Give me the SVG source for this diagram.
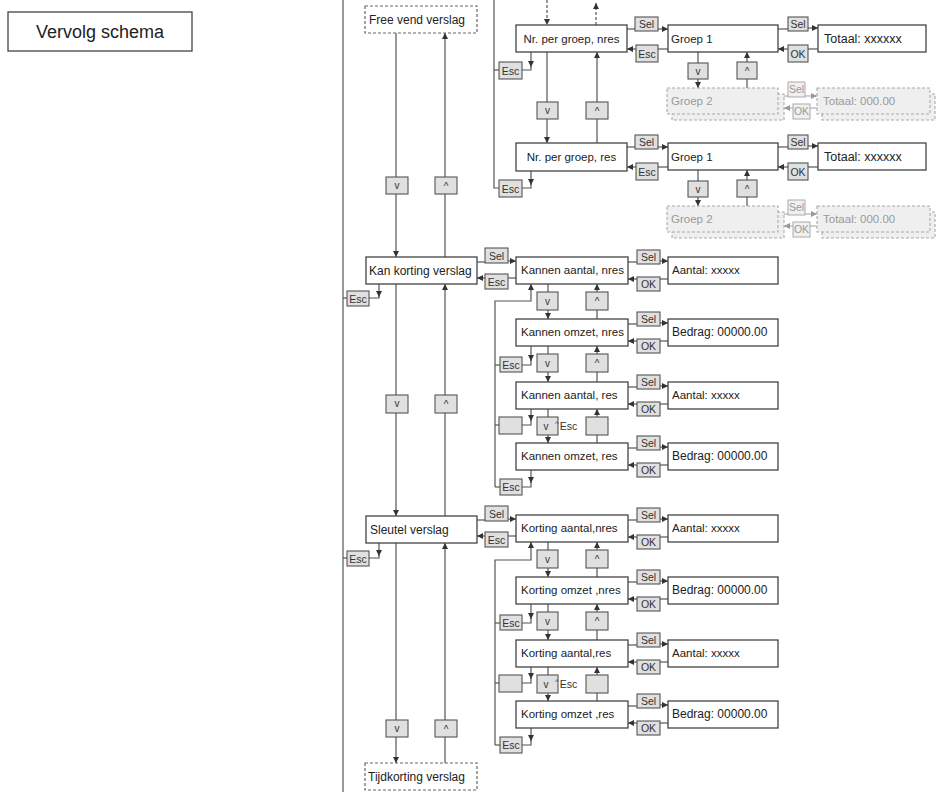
<svg xmlns="http://www.w3.org/2000/svg" width="939" height="793" viewBox="0 0 939 793">
<defs>
<style>
.n{fill:#fff;stroke:#444;stroke-width:1.3}
.d{fill:#fff;stroke:#666;stroke-width:1.2;stroke-dasharray:3,2}
.g{fill:#efefef;stroke:#aaa;stroke-width:1.1;stroke-dasharray:3,2}
.k{fill:#e0e0e0;stroke:#555;stroke-width:1.1}
.kg{fill:#f0f0f0;stroke:#aaa;stroke-width:1}
.t{font-family:"Liberation Sans",Arial,sans-serif;font-size:11.5px;fill:#222}
.tl{font-size:12px}
.tk{font-family:"Liberation Sans",Arial,sans-serif;font-size:10.5px;fill:#333;text-anchor:middle}
.tc{font-family:"Liberation Sans",Arial,sans-serif;font-size:10px;fill:#333;text-anchor:middle}
.tg{fill:#999}
.c{fill:none;stroke:#555;stroke-width:1.2}
.cd{stroke-dasharray:3,2}
.cg{fill:none;stroke:#aaa;stroke-width:1.1}
</style>
<marker id="a" viewBox="0 0 6 6" refX="6" refY="3" markerWidth="6" markerHeight="6" markerUnits="userSpaceOnUse" orient="auto"><path d="M0,0 L6,3 L0,6 z" fill="#333"/></marker>
<marker id="ag" viewBox="0 0 6 6" refX="6" refY="3" markerWidth="6" markerHeight="6" markerUnits="userSpaceOnUse" orient="auto"><path d="M0,0 L6,3 L0,6 z" fill="#999"/></marker>
</defs>
<rect width="939" height="793" fill="#fff"/>

<g id="connectors">
<path class="c" d="M343,0 V792"/>
<path class="c" d="M396,33 V257" marker-end="url(#a)"/>
<path class="c" d="M445,257 V33" marker-end="url(#a)"/>
<path class="c" d="M396,284 V516" marker-end="url(#a)"/>
<path class="c" d="M445,516 V284" marker-end="url(#a)"/>
<path class="c" d="M396,543 V763" marker-end="url(#a)"/>
<path class="c" d="M445,763 V543" marker-end="url(#a)"/>
<path class="c" d="M343,298 H347"/>
<path class="c" d="M379,284 V297" marker-end="url(#a)"/>
<path class="c" d="M379,296 V298 H369"/>
<path class="c" d="M343,558 H347"/>
<path class="c" d="M379,543 V556" marker-end="url(#a)"/>
<path class="c" d="M379,555 V558 H369"/>
<path class="c" d="M477,262 H485"/>
<path class="c" d="M508,261 H516" marker-end="url(#a)"/>
<path class="c" d="M516,278 H508"/>
<path class="c" d="M485,278 H477" marker-end="url(#a)"/>
<path class="c" d="M477,520 H485"/>
<path class="c" d="M508,519 H516" marker-end="url(#a)"/>
<path class="c" d="M516,536 H508"/>
<path class="c" d="M485,536 H477" marker-end="url(#a)"/>

<path class="c" d="M494,0 V188 H499"/>
<path class="c" d="M494,70 H499"/>
<path class="c" d="M531,52 V67" marker-end="url(#a)"/>
<path class="c" d="M531,66 V70 H522"/>
<path class="c" d="M531,171 V185" marker-end="url(#a)"/>
<path class="c" d="M531,184 V188 H522"/>
<path class="c cd" d="M547,0 V25" marker-end="url(#a)"/>
<path class="c cd" d="M596,25 V3" marker-end="url(#a)"/>
<path class="c" d="M547,52 V143" marker-end="url(#a)"/>
<path class="c" d="M597,143 V52" marker-end="url(#a)"/>

<path class="c" d="M627,29 H635"/>
<path class="c" d="M658,29 H668" marker-end="url(#a)"/>
<path class="c" d="M668,49 H658"/>
<path class="c" d="M636,49 H627" marker-end="url(#a)"/>
<path class="c" d="M778,29 H788"/>
<path class="c" d="M808,28 H818" marker-end="url(#a)"/>
<path class="c" d="M818,49 H808"/>
<path class="c" d="M788,49 H778" marker-end="url(#a)"/>
<path class="c" d="M698,52 V88" marker-end="url(#a)"/>
<path class="c" d="M747,88 V52" marker-end="url(#a)"/>
<path class="cg" d="M778,96 H788"/>
<path class="cg" d="M805,96 H817" marker-end="url(#ag)"/>
<path class="cg" d="M817,108 H810"/>
<path class="cg" d="M793,108 H784" marker-end="url(#ag)"/>
<path class="c" d="M627,147 H635"/>
<path class="c" d="M658,147 H668" marker-end="url(#a)"/>
<path class="c" d="M668,167 H658"/>
<path class="c" d="M636,167 H627" marker-end="url(#a)"/>
<path class="c" d="M778,147 H788"/>
<path class="c" d="M808,146 H818" marker-end="url(#a)"/>
<path class="c" d="M818,167 H808"/>
<path class="c" d="M788,167 H778" marker-end="url(#a)"/>
<path class="c" d="M698,170 V206" marker-end="url(#a)"/>
<path class="c" d="M747,206 V170" marker-end="url(#a)"/>
<path class="cg" d="M778,214 H788"/>
<path class="cg" d="M805,214 H817" marker-end="url(#ag)"/>
<path class="cg" d="M817,226 H810"/>
<path class="cg" d="M793,226 H784" marker-end="url(#ag)"/>

<path class="c" d="M628,262 H637"/><path class="c" d="M660,261 H668" marker-end="url(#a)"/>
<path class="c" d="M668,279 H660"/><path class="c" d="M637,279 H628" marker-end="url(#a)"/>
<path class="c" d="M628,324 H637"/><path class="c" d="M660,323 H668" marker-end="url(#a)"/>
<path class="c" d="M668,341 H660"/><path class="c" d="M637,341 H628" marker-end="url(#a)"/>
<path class="c" d="M628,387 H637"/><path class="c" d="M660,386 H668" marker-end="url(#a)"/>
<path class="c" d="M668,404 H660"/><path class="c" d="M637,404 H628" marker-end="url(#a)"/>
<path class="c" d="M628,448 H637"/><path class="c" d="M660,447 H668" marker-end="url(#a)"/>
<path class="c" d="M668,465 H660"/><path class="c" d="M637,465 H628" marker-end="url(#a)"/>
<path class="c" d="M548,284 V319" marker-end="url(#a)"/><path class="c" d="M597,319 V284" marker-end="url(#a)"/>
<path class="c" d="M548,346 V382" marker-end="url(#a)"/><path class="c" d="M597,382 V346" marker-end="url(#a)"/>
<path class="c" d="M548,409 V443" marker-end="url(#a)"/><path class="c" d="M597,443 V409" marker-end="url(#a)"/>
<path class="c" d="M495,487 V301 H531 V284" marker-end="url(#a)"/>
<path class="c" d="M495,365 H500"/><path class="c" d="M495,425 H499"/><path class="c" d="M495,487 H500"/>
<path class="c" d="M531,346 V361" marker-end="url(#a)"/><path class="c" d="M531,360 V365 H522"/>
<path class="c" d="M531,409 V421" marker-end="url(#a)"/><path class="c" d="M531,420 V425 H522"/>
<path class="c" d="M531,470 V483" marker-end="url(#a)"/><path class="c" d="M531,482 V487 H522"/>

<path class="c" d="M628,520 H637"/><path class="c" d="M660,519 H668" marker-end="url(#a)"/>
<path class="c" d="M668,537 H660"/><path class="c" d="M637,537 H628" marker-end="url(#a)"/>
<path class="c" d="M628,582 H637"/><path class="c" d="M660,581 H668" marker-end="url(#a)"/>
<path class="c" d="M668,599 H660"/><path class="c" d="M637,599 H628" marker-end="url(#a)"/>
<path class="c" d="M628,645 H637"/><path class="c" d="M660,644 H668" marker-end="url(#a)"/>
<path class="c" d="M668,662 H660"/><path class="c" d="M637,662 H628" marker-end="url(#a)"/>
<path class="c" d="M628,706 H637"/><path class="c" d="M660,705 H668" marker-end="url(#a)"/>
<path class="c" d="M668,723 H660"/><path class="c" d="M637,723 H628" marker-end="url(#a)"/>
<path class="c" d="M548,542 V577" marker-end="url(#a)"/><path class="c" d="M597,577 V542" marker-end="url(#a)"/>
<path class="c" d="M548,604 V640" marker-end="url(#a)"/><path class="c" d="M597,640 V604" marker-end="url(#a)"/>
<path class="c" d="M548,667 V701" marker-end="url(#a)"/><path class="c" d="M597,701 V667" marker-end="url(#a)"/>
<path class="c" d="M495,745 V560 H531 V542" marker-end="url(#a)"/>
<path class="c" d="M495,623 H500"/><path class="c" d="M495,683 H499"/><path class="c" d="M495,745 H500"/>
<path class="c" d="M531,604 V619" marker-end="url(#a)"/><path class="c" d="M531,618 V623 H522"/>
<path class="c" d="M531,667 V679" marker-end="url(#a)"/><path class="c" d="M531,678 V683 H522"/>
<path class="c" d="M531,728 V741" marker-end="url(#a)"/><path class="c" d="M531,740 V745 H522"/>
</g>

<g id="vervolg"><rect class="n" x="8" y="12" width="184" height="39"/><text class="t" x="100" y="38" style="font-size:18px" text-anchor="middle">Vervolg schema</text></g>

<g id="free-vend"><rect class="d" x="365" y="6" width="112" height="27"/><text class="t tl" x="369" y="24">Free vend verslag</text></g>
<g id="kan-korting"><rect class="n" x="366" y="257" width="111" height="27"/><text class="t tl" x="369" y="275">Kan korting verslag</text></g>
<g id="sleutel"><rect class="n" x="366" y="516" width="111" height="27"/><text class="t tl" x="370" y="534">Sleutel verslag</text></g>
<g id="tijdkorting"><rect class="d" x="365" y="763" width="112" height="27"/><text class="t tl" x="368" y="781">Tijdkorting verslag</text></g>

<g id="keys-left">
<rect class="k" x="386" y="177" width="22" height="17"/><text class="tc" x="397" y="189">v</text>
<rect class="k" x="435" y="177" width="22" height="17"/><text class="tc" x="446" y="190">^</text>
<rect class="k" x="386" y="395" width="22" height="18"/><text class="tc" x="397" y="407">v</text>
<rect class="k" x="435" y="395" width="22" height="18"/><text class="tc" x="446" y="408">^</text>
<rect class="k" x="386" y="720" width="22" height="17"/><text class="tc" x="397" y="732">v</text>
<rect class="k" x="435" y="720" width="22" height="17"/><text class="tc" x="446" y="733">^</text>
<rect class="k" x="347" y="291" width="22" height="15"/><text class="tk" x="358" y="302.5">Esc</text>
<rect class="k" x="347" y="551" width="22" height="15"/><text class="tk" x="358" y="562.5">Esc</text>
<rect class="k" x="485" y="248" width="23" height="15"/><text class="tk" x="496.5" y="259.5">Sel</text>
<rect class="k" x="485" y="274" width="23" height="15"/><text class="tk" x="496.5" y="285.5">Esc</text>
<rect class="k" x="485" y="506" width="23" height="15"/><text class="tk" x="496.5" y="517.5">Sel</text>
<rect class="k" x="485" y="532" width="23" height="15"/><text class="tk" x="496.5" y="543.5">Esc</text>
</g>

<g id="nr-nres"><rect class="n" x="516" y="25" width="111" height="27"/><text class="t" x="571.5" y="43" text-anchor="middle">Nr. per groep, nres</text></g>
<g id="nr-res"><rect class="n" x="516" y="143" width="111" height="28"/><text class="t" x="571.5" y="161" text-anchor="middle">Nr. per groep, res</text></g>
<g id="keys-top">
<rect class="k" x="499" y="62" width="23" height="17"/><text class="tk" x="510.5" y="74.5">Esc</text>
<rect class="k" x="499" y="180" width="23" height="17"/><text class="tk" x="510.5" y="192.5">Esc</text>
<rect class="k" x="537" y="102" width="21" height="17"/><text class="tc" x="547.5" y="114">v</text>
<rect class="k" x="586" y="102" width="22" height="17"/><text class="tc" x="597" y="115">^</text>
</g>

<g id="groep-block-1">
<rect class="k" x="635" y="17" width="23" height="14"/><text class="tk" x="646.5" y="28">Sel</text>
<rect class="k" x="636" y="45" width="22" height="17"/><text class="tk" x="647" y="57.5">Esc</text>
<rect class="n" x="668" y="25" width="110" height="27"/><text class="t" x="671" y="43">Groep 1</text>
<rect class="k" x="788" y="17" width="20" height="14"/><text class="tk" x="798" y="28">Sel</text>
<rect class="k" x="788" y="45" width="20" height="17"/><text class="tk" x="798" y="57.5">OK</text>
<rect class="n" x="818" y="25" width="108" height="27"/><text class="t" x="824" y="43" style="font-size:12.5px">Totaal: xxxxxx</text>
<rect class="k" x="688" y="63" width="20" height="16"/><text class="tc" x="698" y="74.5">v</text>
<rect class="k" x="737" y="62" width="20" height="17"/><text class="tc" x="747" y="75">^</text>
<rect class="g" x="672" y="94" width="112" height="26"/><rect class="g" x="667" y="88" width="111" height="26"/><text class="t tg" x="671" y="105">Groep 2</text>
<rect class="kg" x="788" y="82" width="17" height="15"/><text class="tk tg" x="796.5" y="93">Sel</text>
<rect class="kg" x="793" y="104" width="17" height="15"/><text class="tk tg" x="801.5" y="115">OK</text>
<rect class="g" x="822" y="94" width="113" height="26"/><rect class="g" x="817" y="88" width="113" height="26"/><text class="t tg" x="823" y="105">Totaal: 000.00</text>
</g>

<g id="groep-block-2">
<rect class="k" x="635" y="135" width="23" height="14"/><text class="tk" x="646.5" y="146">Sel</text>
<rect class="k" x="636" y="163" width="22" height="17"/><text class="tk" x="647" y="175.5">Esc</text>
<rect class="n" x="668" y="143" width="110" height="27"/><text class="t" x="671" y="161">Groep 1</text>
<rect class="k" x="788" y="135" width="20" height="14"/><text class="tk" x="798" y="146">Sel</text>
<rect class="k" x="788" y="163" width="20" height="17"/><text class="tk" x="798" y="175.5">OK</text>
<rect class="n" x="818" y="143" width="108" height="27"/><text class="t" x="824" y="161" style="font-size:12.5px">Totaal: xxxxxx</text>
<rect class="k" x="688" y="181" width="20" height="16"/><text class="tc" x="698" y="192.5">v</text>
<rect class="k" x="737" y="180" width="20" height="17"/><text class="tc" x="747" y="193">^</text>
<rect class="g" x="672" y="212" width="112" height="26"/><rect class="g" x="667" y="206" width="111" height="26"/><text class="t tg" x="671" y="223">Groep 2</text>
<rect class="kg" x="788" y="200" width="17" height="15"/><text class="tk tg" x="796.5" y="211">Sel</text>
<rect class="kg" x="793" y="222" width="17" height="15"/><text class="tk tg" x="801.5" y="233">OK</text>
<rect class="g" x="822" y="212" width="113" height="26"/><rect class="g" x="817" y="206" width="113" height="26"/><text class="t tg" x="823" y="223">Totaal: 000.00</text>
</g>

<g id="kannen-aantal-nres"><rect class="n" x="516" y="257" width="112" height="27"/><text class="t" x="521" y="274">Kannen aantal, nres</text></g>
<g id="kannen-omzet-nres"><rect class="n" x="516" y="319" width="112" height="27"/><text class="t" x="521" y="336">Kannen omzet, nres</text></g>
<g id="kannen-aantal-res"><rect class="n" x="516" y="382" width="112" height="27"/><text class="t" x="521" y="399">Kannen aantal, res</text></g>
<g id="kannen-omzet-res"><rect class="n" x="516" y="443" width="112" height="27"/><text class="t" x="521" y="460">Kannen omzet, res</text></g>
<g id="kannen-values">
<rect class="n" x="668" y="257" width="110" height="27"/><text class="t" x="672" y="274">Aantal: xxxxx</text>
<rect class="n" x="668" y="319" width="110" height="27"/><text class="t" x="672" y="336" style="font-size:12px">Bedrag: 00000.00</text>
<rect class="n" x="668" y="382" width="110" height="27"/><text class="t" x="672" y="399">Aantal: xxxxx</text>
<rect class="n" x="668" y="443" width="110" height="27"/><text class="t" x="672" y="460" style="font-size:12px">Bedrag: 00000.00</text>
</g>
<g id="kannen-keys">
<rect class="k" x="637" y="250" width="23" height="14"/><text class="tk" x="648.5" y="261">Sel</text>
<rect class="k" x="637" y="277" width="23" height="14"/><text class="tk" x="648.5" y="288">OK</text>
<rect class="k" x="637" y="312" width="23" height="14"/><text class="tk" x="648.5" y="323">Sel</text>
<rect class="k" x="637" y="339" width="23" height="14"/><text class="tk" x="648.5" y="350">OK</text>
<rect class="k" x="637" y="375" width="23" height="14"/><text class="tk" x="648.5" y="386">Sel</text>
<rect class="k" x="637" y="402" width="23" height="14"/><text class="tk" x="648.5" y="413">OK</text>
<rect class="k" x="637" y="436" width="23" height="14"/><text class="tk" x="648.5" y="447">Sel</text>
<rect class="k" x="637" y="463" width="23" height="14"/><text class="tk" x="648.5" y="474">OK</text>
<rect class="k" x="537" y="292" width="21" height="18"/><text class="tc" x="547.5" y="304.5">v</text>
<rect class="k" x="586" y="292" width="22" height="18"/><text class="tc" x="597" y="305">^</text>
<rect class="k" x="537" y="354" width="21" height="18"/><text class="tc" x="547.5" y="366.5">v</text>
<rect class="k" x="586" y="354" width="22" height="18"/><text class="tc" x="597" y="367">^</text>
<rect class="k" x="537" y="417" width="21" height="18"/><text class="tc" x="546" y="429.5">v</text>
<text class="tc" x="557" y="426" style="font-size:8px">^</text><text class="tk" x="568.5" y="430">Esc</text>
<rect class="k" x="586" y="417" width="22" height="18"/>
<rect class="k" x="500" y="357" width="22" height="15"/><text class="tk" x="511" y="368.5">Esc</text>
<rect class="k" x="499" y="417" width="23" height="17"/>
<rect class="k" x="500" y="479" width="22" height="16"/><text class="tk" x="511" y="491">Esc</text>
</g>

<g id="korting-aantal-nres"><rect class="n" x="516" y="515" width="112" height="27"/><text class="t" x="521" y="532">Korting aantal,nres</text></g>
<g id="korting-omzet-nres"><rect class="n" x="516" y="577" width="112" height="27"/><text class="t" x="521" y="594">Korting omzet ,nres</text></g>
<g id="korting-aantal-res"><rect class="n" x="516" y="640" width="112" height="27"/><text class="t" x="521" y="657">Korting aantal,res</text></g>
<g id="korting-omzet-res"><rect class="n" x="516" y="701" width="112" height="27"/><text class="t" x="521" y="718">Korting omzet ,res</text></g>
<g id="korting-values">
<rect class="n" x="668" y="515" width="110" height="27"/><text class="t" x="672" y="532">Aantal: xxxxx</text>
<rect class="n" x="668" y="577" width="110" height="27"/><text class="t" x="672" y="594" style="font-size:12px">Bedrag: 00000.00</text>
<rect class="n" x="668" y="640" width="110" height="27"/><text class="t" x="672" y="657">Aantal: xxxxx</text>
<rect class="n" x="668" y="701" width="110" height="27"/><text class="t" x="672" y="718" style="font-size:12px">Bedrag: 00000.00</text>
</g>
<g id="korting-keys">
<rect class="k" x="637" y="508" width="23" height="14"/><text class="tk" x="648.5" y="519">Sel</text>
<rect class="k" x="637" y="535" width="23" height="14"/><text class="tk" x="648.5" y="546">OK</text>
<rect class="k" x="637" y="570" width="23" height="14"/><text class="tk" x="648.5" y="581">Sel</text>
<rect class="k" x="637" y="597" width="23" height="14"/><text class="tk" x="648.5" y="608">OK</text>
<rect class="k" x="637" y="633" width="23" height="14"/><text class="tk" x="648.5" y="644">Sel</text>
<rect class="k" x="637" y="660" width="23" height="14"/><text class="tk" x="648.5" y="671">OK</text>
<rect class="k" x="637" y="694" width="23" height="14"/><text class="tk" x="648.5" y="705">Sel</text>
<rect class="k" x="637" y="721" width="23" height="14"/><text class="tk" x="648.5" y="732">OK</text>
<rect class="k" x="537" y="550" width="21" height="18"/><text class="tc" x="547.5" y="562.5">v</text>
<rect class="k" x="586" y="550" width="22" height="18"/><text class="tc" x="597" y="563">^</text>
<rect class="k" x="537" y="612" width="21" height="18"/><text class="tc" x="547.5" y="624.5">v</text>
<rect class="k" x="586" y="612" width="22" height="18"/><text class="tc" x="597" y="625">^</text>
<rect class="k" x="537" y="675" width="21" height="18"/><text class="tc" x="546" y="687.5">v</text>
<text class="tc" x="557" y="684" style="font-size:8px">^</text><text class="tk" x="568.5" y="688">Esc</text>
<rect class="k" x="586" y="675" width="22" height="18"/>
<rect class="k" x="500" y="615" width="22" height="15"/><text class="tk" x="511" y="626.5">Esc</text>
<rect class="k" x="499" y="675" width="23" height="17"/>
<rect class="k" x="500" y="737" width="22" height="16"/><text class="tk" x="511" y="749">Esc</text>
</g>
</svg>
